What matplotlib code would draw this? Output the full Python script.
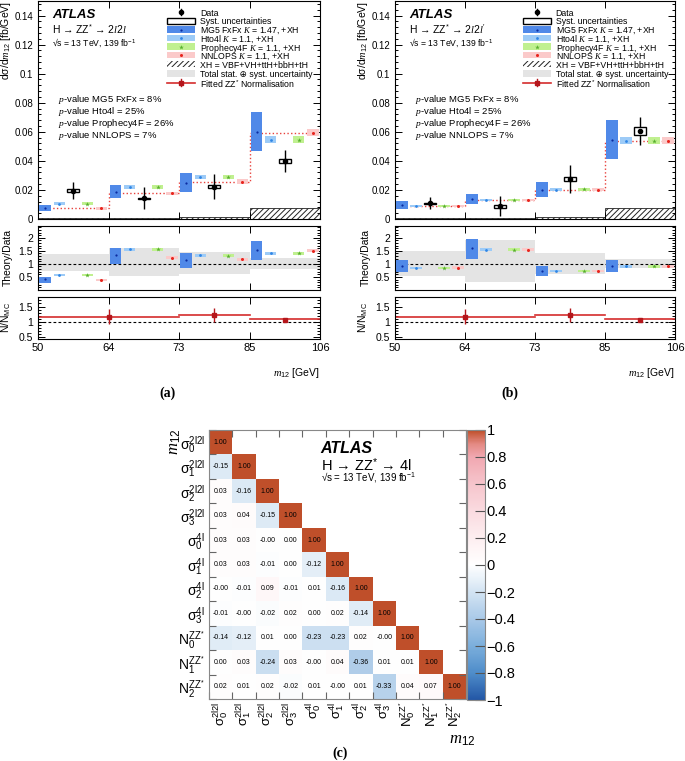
import numpy as np
import matplotlib.pyplot as plt
from matplotlib.patches import Rectangle
from matplotlib.colors import LinearSegmentedColormap
from matplotlib.ticker import MultipleLocator, FuncFormatter

plt.rcParams['font.family'] = ['Liberation Sans', 'DejaVu Sans']
plt.rcParams['mathtext.fontset'] = 'custom'
plt.rcParams['mathtext.rm'] = 'Liberation Sans'
plt.rcParams['mathtext.it'] = 'Liberation Serif:italic'
plt.rcParams['mathtext.bf'] = 'Liberation Sans:bold'
plt.rcParams['hatch.linewidth'] = 0.7

# bins in m12 (GeV), drawn with equal width
bin_edges = ['50', '64', '73', '85', '106']

# ---- (a) H -> ZZ* -> 2l2l ----
a_mg5 = [0.0075, 0.0189, 0.0251, 0.0602]
a_mg5_err = [0.0020, 0.0044, 0.0063, 0.0137]
a_hto4l = [0.0105, 0.0221, 0.0287, 0.0545]
a_proph = [0.0105, 0.0221, 0.0287, 0.0545]
a_nnlops = [0.0073, 0.0176, 0.0258, 0.0593]
a_th_err = [0.0010, 0.0013, 0.0015, 0.0025]
a_data = [0.0194, 0.0144, 0.0223, 0.0399]
a_stat = [0.0058, 0.0075, 0.0087, 0.0075]
a_syst = [0.0010, 0.0003, 0.0010, 0.0017]
a_xh = [0.0005, 0.0008, 0.0017, 0.0077]
a_band_lo = [0.72, 0.53, 0.63, 0.79]
a_band_hi = [1.36, 1.62, 1.46, 1.23]
a_r_mg5 = [0.41, 1.33, 1.14, 1.54]
a_r_mg5_lo = [0.28, 1.01, 0.83, 1.14]
a_r_mg5_hi = [0.50, 1.62, 1.42, 1.87]
a_r_hto4l = [0.56, 1.56, 1.33, 1.40]
a_r_proph = [0.56, 1.56, 1.32, 1.40]
a_r_nnlops = [0.38, 1.23, 1.18, 1.51]
a_r_err = [0.04, 0.06, 0.06, 0.06]

# ---- (b) H -> ZZ* -> 2l2l' ----
b_mg5 = [0.0096, 0.0137, 0.0201, 0.0547]
b_mg5_err = [0.0026, 0.0033, 0.0052, 0.0131]
b_hto4l = [0.0089, 0.0130, 0.0201, 0.0540]
b_proph = [0.0089, 0.0130, 0.0205, 0.0540]
b_nnlops = [0.0089, 0.0130, 0.0201, 0.0538]
b_th_err = [0.0008, 0.0008, 0.0010, 0.0025]
b_data = [0.0107, 0.0089, 0.0276, 0.0606]
b_stat = [0.0041, 0.0067, 0.0099, 0.0095]
b_syst = [0.0005, 0.0010, 0.0013, 0.0025]
b_xh = [0.0004, 0.0007, 0.0012, 0.0075]
b_band_lo = [0.54, 0.31, 0.63, 0.85]
b_band_hi = [1.49, 1.91, 1.42, 1.19]
b_r_mg5 = [0.92, 1.59, 0.73, 0.92]
b_r_mg5_lo = [0.67, 1.18, 0.53, 0.67]
b_r_mg5_hi = [1.14, 1.95, 0.91, 1.13]
b_r_hto4l = [0.85, 1.55, 0.74, 0.90]
b_r_proph = [0.85, 1.55, 0.74, 0.90]
b_r_nnlops = [0.86, 1.55, 0.73, 0.90]
b_r_err = [0.04, 0.05, 0.04, 0.04]

# fitted ZZ* normalisation (same in both), bin-index ranges
nmc_range = [(0, 2), (2, 3), (3, 4)]
nmc_point = [1.0, 2.5, 3.5]
nmc_line = [1.17, 1.23, 1.09]
nmc_val = [1.17, 1.23, 1.07]
nmc_err = [0.25, 0.23, 0.05]

pvalues = ['MG5 FxFx = 8%', 'Hto4l = 25%', 'Prophecy4F = 26%', 'NNLOPS = 7%']

# ---- (c) correlation matrix ----
corr_labels = [r'$\mathrm{σ}_{0}^{\mathrm{2l2l}}$', r'$\mathrm{σ}_{1}^{\mathrm{2l2l}}$',
               r'$\mathrm{σ}_{2}^{\mathrm{2l2l}}$', r'$\mathrm{σ}_{3}^{\mathrm{2l2l}}$',
               r'$\mathrm{σ}_{0}^{\mathrm{4l}}$', r'$\mathrm{σ}_{1}^{\mathrm{4l}}$',
               r'$\mathrm{σ}_{2}^{\mathrm{4l}}$', r'$\mathrm{σ}_{3}^{\mathrm{4l}}$',
               r'$\mathrm{N}_{0}^{\mathrm{ZZ}^{*}}$', r'$\mathrm{N}_{1}^{\mathrm{ZZ}^{*}}$',
               r'$\mathrm{N}_{2}^{\mathrm{ZZ}^{*}}$']
corr_rows = [
    [1.00],
    [-0.15, 1.00],
    [0.03, -0.16, 1.00],
    [0.03, 0.04, -0.15, 1.00],
    [0.03, 0.03, -0.00, 0.00, 1.00],
    [0.03, 0.03, -0.01, 0.00, -0.12, 1.00],
    [-0.00, -0.01, 0.09, -0.01, 0.01, -0.16, 1.00],
    [-0.01, -0.00, -0.02, 0.02, 0.00, 0.02, -0.14, 1.00],
    [-0.14, -0.12, 0.01, 0.00, -0.23, -0.23, 0.02, -0.00, 1.00],
    [0.00, 0.03, -0.24, 0.03, -0.00, 0.04, -0.36, 0.01, 0.01, 1.00],
    [0.02, 0.01, 0.02, -0.02, 0.01, -0.00, 0.01, -0.33, 0.04, 0.07, 1.00],
]

W, H = 685, 761
fig = plt.figure(figsize=(W / 100, H / 100), dpi=100)


def px_axes(x0, y0, x1, y1):
    return fig.add_axes([x0 / W, 1 - y1 / H, (x1 - x0) / W, (y1 - y0) / H])


slot = {'mg5': 0.1, 'hto4l': 0.3, 'data': 0.5, 'proph': 0.7, 'nnlops': 0.9}
col = {'mg5': '#5089e8', 'hto4l': '#9dcbf7', 'proph': '#c0f090', 'nnlops': '#fbcaca'}
mcol = {'mg5': '#0b2ca0', 'hto4l': '#2f86e6', 'proph': '#56b02c', 'nnlops': '#e8261e'}
mk = {'mg5': 'o', 'hto4l': 'o', 'proph': '*', 'nnlops': 'o'}
msz = {'mg5': 1.6, 'hto4l': 2.0, 'proph': 3.5, 'nnlops': 2.2}
gfmt = FuncFormatter(lambda v, _: '%g' % round(v, 3))


def style(ax, fs):
    ax.set_xlim(0, 4)
    ax.set_xticks(range(5))
    ax.tick_params(which='both', direction='in', top=True, right=True, labelsize=fs, width=0.7)
    ax.tick_params(which='major', length=5)
    ax.tick_params(which='minor', length=2.5)
    ax.yaxis.set_major_formatter(gfmt)
    for s in ax.spines.values():
        s.set_linewidth(0.8)


def boxes(ax, k, val, lo, hi, w=0.16):
    xb = np.arange(4) + slot[k]
    lo = np.array(lo); hi = np.array(hi)
    ax.bar(xb, hi - lo, bottom=lo, width=w, color=col[k], lw=0, zorder=3)
    ax.plot(xb, val, ls='none', marker=mk[k], ms=msz[k], color=mcol[k], mew=0, zorder=4)


def legend(ax):
    x0, x1, xt = 0.457, 0.557, 0.574
    hh = 0.028
    rows = [12, 21, 29.5, 38, 46.5, 55, 64, 73.5, 82.5]
    ys = [(219 - r) / 218 for r in rows]
    xm = (x0 + x1) / 2
    kw = dict(transform=ax.transAxes, clip_on=False)
    labels = ['Data', 'Syst. uncertainties', 'MG5 FxFx $K$ = 1.47, +XH', 'Hto4l $K$ = 1.1, +XH',
              'Prophecy4F $K$ = 1.1, +XH', 'NNLOPS $K$ = 1.1, +XH', 'XH = VBF+VH+ttH+bbH+tH',
              'Total stat. ⊕ syst. uncertainty', 'Fitted ZZ$^{*}$ Normalisation']
    for y, lab in zip(ys, labels):
        ax.text(xt, y, lab, fontsize=6.3, va='center_baseline', ha='left', transform=ax.transAxes)
    # data
    ax.plot([xm, xm], [ys[0] - 0.015, ys[0] + 0.015], color='black', lw=1, **kw)
    ax.plot([xm], [ys[0]], 'o', ms=3, color='black', **kw)
    ax.add_patch(Rectangle((x0, ys[1] - hh / 2), x1 - x0, hh, facecolor='white', edgecolor='black', lw=1, **kw))
    for i, k in zip([2, 3, 4, 5], ['mg5', 'hto4l', 'proph', 'nnlops']):
        ax.add_patch(Rectangle((x0, ys[i] - hh / 2), x1 - x0, hh, facecolor=col[k], lw=0, **kw))
        ax.plot([xm], [ys[i]], marker=mk[k], ms=msz[k], color=mcol[k], mew=0, **kw)
    ax.add_patch(Rectangle((x0, ys[6] - hh / 2), x1 - x0, hh, facecolor='white', edgecolor='#222222',
                           hatch='//////', lw=0, **kw))
    ax.add_patch(Rectangle((x0, ys[7] - hh / 2), x1 - x0, hh, facecolor='#e4e4e4', lw=0, **kw))
    ax.plot([x0, x1], [ys[8], ys[8]], color='#d42c2c', lw=1.2, **kw)
    ax.plot([xm, xm], [ys[8] - 0.018, ys[8] + 0.018], color='#b5161b', lw=1, **kw)
    ax.plot([xm], [ys[8]], 's', ms=3, color='#b5161b', **kw)


def draw_panel(xl, xr, p, chan, tag, tag_x):
    xb = np.arange(4)
    # main panel
    ax = px_axes(xl, 1, xr, 219)
    ax.bar(xb + 0.5, p['xh'], width=1, facecolor='white', edgecolor='#222222', hatch='//////', lw=0.6, zorder=1)
    ax.stairs(p['nnlops'], np.arange(5), baseline=None, color='#e8413c', ls=':', lw=1.0, zorder=2)
    boxes(ax, 'mg5', p['mg5'], np.array(p['mg5']) - p['mg5_err'], np.array(p['mg5']) + p['mg5_err'])
    for k in ['hto4l', 'proph', 'nnlops']:
        boxes(ax, k, p[k], np.array(p[k]) - p['th_err'], np.array(p[k]) + p['th_err'])
    d = np.array(p['data']); sy = np.array(p['syst'])
    ax.errorbar(xb + 0.5, d, yerr=p['stat'], fmt='none', ecolor='black', lw=1, capsize=0, zorder=5)
    ax.bar(xb + 0.5, 2 * sy, bottom=d - sy, width=0.17, facecolor='white', edgecolor='black', lw=1, zorder=6)
    ax.plot(xb + 0.5, d, 'o', ms=3, color='black', zorder=7)
    style(ax, 7)
    ax.set_xticklabels([])
    ax.set_ylim(0, 0.15)
    ax.set_yticks(np.arange(0, 0.141, 0.02))
    ax.yaxis.set_minor_locator(MultipleLocator(0.004))
    ax.set_ylabel('dσ/d$m_{12}$ [fb/GeV]', loc='top', fontsize=7.5)
    ax.yaxis.set_label_coords(-0.088, 1.0)
    ax.text(0.05, 0.936, 'ATLAS', fontsize=9.5, fontweight='bold', fontstyle='italic',
            transform=ax.transAxes, va='center')
    ax.text(0.05, 0.87, 'H → ZZ$^{*}$ → ' + chan, fontsize=7.5, transform=ax.transAxes, va='center')
    ax.text(0.05, 0.81, '√s = 13 TeV, 139 fb$^{-1}$', fontsize=6.2, transform=ax.transAxes, va='center')
    for i, t in enumerate(pvalues):
        ax.text(0.07, [0.546, 0.493, 0.438, 0.383][i], '$p$-value ' + t, fontsize=6.8,
                transform=ax.transAxes, va='center')
    legend(ax)

    # theory / data
    ar = px_axes(xl, 226, xr, 290)
    lo = np.array(p['band_lo']); hi = np.array(p['band_hi'])
    ar.bar(xb + 0.5, hi - lo, bottom=lo, width=1, color='#e4e4e4', lw=0, zorder=1)
    ar.axhline(1, color='black', ls=(0, (2.5, 2)), lw=0.8, zorder=2)
    boxes(ar, 'mg5', p['r_mg5'], p['r_mg5_lo'], p['r_mg5_hi'])
    for k in ['hto4l', 'proph', 'nnlops']:
        boxes(ar, k, p['r_' + k], np.array(p['r_' + k]) - p['r_err'], np.array(p['r_' + k]) + p['r_err'])
    style(ar, 7.5)
    ar.set_xticklabels([])
    ar.set_ylim(0, 2.45)
    ar.set_yticks([0.5, 1, 1.5, 2])
    ar.yaxis.set_minor_locator(MultipleLocator(0.1))
    ar.set_ylabel('Theory/Data', fontsize=7.5)
    ar.yaxis.set_label_coords(-0.088, 0.5)

    # N / N_MC
    an = px_axes(xl, 297, xr, 339)
    an.axhline(1, color='black', ls=(0, (2.5, 2)), lw=0.8)
    for (r0, r1), v in zip(nmc_range, nmc_line):
        an.plot([r0, r1], [v, v], color='#d42c2c', lw=1.2)
    an.errorbar(nmc_point, nmc_val, yerr=nmc_err, fmt='s', ms=3.5, color='#b5161b', lw=1, capsize=0)
    style(an, 7.5)
    an.set_xticklabels(bin_edges)
    an.tick_params(axis='x', labelsize=8, pad=3)
    an.set_ylim(0.45, 1.81)
    an.set_yticks([0.5, 1, 1.5])
    an.yaxis.set_minor_locator(MultipleLocator(0.1))
    an.set_ylabel('N/N$_{\\mathrm{MC}}$', fontsize=7.5)
    an.yaxis.set_label_coords(-0.088, 0.5)

    fig.text(xr / W, 1 - 373 / H, '$m_{12}$ [GeV]', ha='right', va='center', fontsize=7.5)
    fig.text(tag_x / W, 1 - 393 / H, tag, ha='center', va='center', fontsize=10,
             fontweight='bold', family='Liberation Serif')


pa = dict(mg5=a_mg5, mg5_err=a_mg5_err, hto4l=a_hto4l, proph=a_proph, nnlops=a_nnlops, th_err=a_th_err,
          data=a_data, stat=a_stat, syst=a_syst, xh=a_xh, band_lo=a_band_lo, band_hi=a_band_hi,
          r_mg5=a_r_mg5, r_mg5_lo=a_r_mg5_lo, r_mg5_hi=a_r_mg5_hi, r_hto4l=a_r_hto4l,
          r_proph=a_r_proph, r_nnlops=a_r_nnlops, r_err=a_r_err)
pb = dict(mg5=b_mg5, mg5_err=b_mg5_err, hto4l=b_hto4l, proph=b_proph, nnlops=b_nnlops, th_err=b_th_err,
          data=b_data, stat=b_stat, syst=b_syst, xh=b_xh, band_lo=b_band_lo, band_hi=b_band_hi,
          r_mg5=b_r_mg5, r_mg5_lo=b_r_mg5_lo, r_mg5_hi=b_r_mg5_hi, r_hto4l=b_r_hto4l,
          r_proph=b_r_proph, r_nnlops=b_r_nnlops, r_err=b_r_err)

draw_panel(38, 320, pa, '2$l$2$l$', '(a)', 167)
draw_panel(395, 675, pb, "2$l$2$l^{\\prime}$", '(b)', 510)

# ---- correlation matrix ----
n = len(corr_labels)
M = np.full((n, n), np.nan)
for i, row in enumerate(corr_rows):
    M[i, :len(row)] = row

cmap = LinearSegmentedColormap.from_list('atlas_corr', [
    (0.0, '#2357a6'), (0.1, '#4f8dca'), (0.2, '#7cafdc'), (0.3, '#a9c9e8'), (0.4, '#d3e4f3'),
    (0.5, '#ffffff'), (0.6, '#fdeef0'), (0.7, '#fadbe0'), (0.8, '#f6c5cc'), (0.9, '#f1a8b1'),
    (0.95, '#e48a84'), (1.0, '#bf4f2a')])

am = px_axes(209, 430, 466, 699)
im = am.imshow(M, cmap=cmap, vmin=-1, vmax=1, aspect='auto', interpolation='nearest',
               extent=(-0.5, n - 0.5, n - 0.5, -0.5))
for i, row in enumerate(corr_rows):
    for j, v in enumerate(row):
        am.text(j, i, '%.2f' % v, ha='center', va='center', fontsize=5, color='black')
am.set_xlim(-0.5, n - 0.5)
am.set_ylim(n - 0.5, -0.5)
am.set_xticks(range(n))
am.set_xticklabels(corr_labels, rotation=90, fontsize=9.5)
am.set_yticks(range(n))
am.set_yticklabels(corr_labels, fontsize=10)
am.tick_params(which='major', length=0, pad=3)
am.tick_params(axis='x', which='major', pad=2)
am.set_xticks(np.arange(-0.5, n, 1), minor=True)
am.set_yticks(np.arange(-0.5, n, 1), minor=True)
am.tick_params(which='minor', direction='in', length=5, width=0.8, color='#666666',
               top=True, right=True, bottom=True, left=True)
for s in am.spines.values():
    s.set_color('#888888')
    s.set_linewidth(0.8)

am.text(0.435, 0.93, 'ATLAS', fontsize=11.5, fontweight='bold', fontstyle='italic',
        transform=am.transAxes, va='center')
am.text(0.435, 0.87, 'H → ZZ$^{*}$ → 4l', fontsize=10.5, transform=am.transAxes, va='center')
am.text(0.435, 0.823, '√s = 13 TeV, 139 fb$^{-1}$', fontsize=7, transform=am.transAxes, va='center')

cax = px_axes(467, 430, 485, 700)
cb = fig.colorbar(im, cax=cax, ticks=np.linspace(-1, 1, 11))
cb.outline.set_edgecolor('#888888')
cb.outline.set_linewidth(0.8)
cax.yaxis.set_major_formatter(FuncFormatter(lambda v, _: ('%g' % (round(v, 1) + 0.0)).replace('-', '\u2212')))
cax.tick_params(direction='in', length=7, width=0.8, color='#555555', labelsize=10.5, pad=1)

fig.text(175 / W, 1 - 442 / H, '$m_{12}$', rotation=90, ha='center', va='center', fontsize=12)
fig.text(462 / W, 1 - 740 / H, '$m_{12}$', ha='center', va='center', fontsize=12)
fig.text(340 / W, 1 - 753 / H, '(c)', ha='center', va='center', fontsize=10,
         fontweight='bold', family='Liberation Serif')

fig.savefig('out.png', dpi=100)
